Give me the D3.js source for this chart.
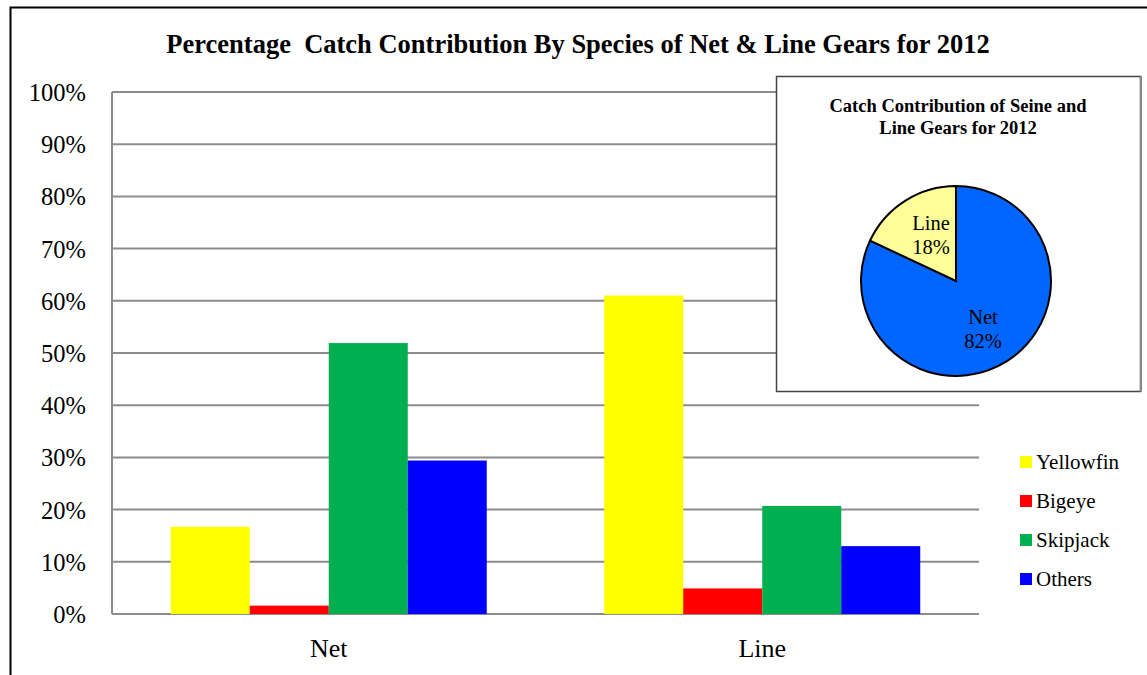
<!DOCTYPE html>
<html>
<head>
<meta charset="utf-8">
<script src="https://cdn.jsdelivr.net/npm/d3@7"></script>
<style>
  body { margin: 0; background: #fff; }
</style>
</head>
<body>
<svg id="chart" width="1147" height="675" font-family="'Liberation Serif', 'DejaVu Serif', serif"></svg>
<script>
// data
const gears = ["Net", "Line"];
const species = ["Yellowfin", "Bigeye", "Skipjack", "Others"];
const speciesColors = ["#FFFF00", "#FF0000", "#00B050", "#0000FF"];
const netValues = [16.7, 1.6, 51.9, 29.4];
const lineValues = [61.0, 4.9, 20.7, 13.0];
const yTicks = [0, 10, 20, 30, 40, 50, 60, 70, 80, 90, 100];

const pieLabels = ["Net", "Line"];
const pieValues = [82, 18];
const pieColors = ["#0066FF", "#FFFF99"];

const svg = d3.select("#chart");
const plot = { left: 112, right: 979, top: 92, bottom: 614 };

// outer frame
svg.append("path")
    .attr("d", "M10.5,680 L10.5,7.5 L1150,7.5")
    .attr("fill", "none").attr("stroke", "#000").attr("stroke-width", 2);

svg.append("text")
    .attr("x", 578).attr("y", 53)
    .attr("text-anchor", "middle")
    .attr("font-size", 26.5).attr("font-weight", "bold")
    .attr("xml:space", "preserve")
    .text("Percentage  Catch Contribution By Species of Net & Line Gears for 2012");

const y = d3.scaleLinear().domain([0, 100]).range([plot.bottom, plot.top]);
const x0 = d3.scaleBand().domain(gears).range([plot.left, plot.right]);
const x1 = d3.scaleBand().domain(species).range([0, 316]);

// gridlines
svg.append("g").selectAll("line").data(yTicks).join("line")
    .attr("x1", plot.left).attr("x2", plot.right)
    .attr("y1", d => y(d)).attr("y2", d => y(d))
    .attr("stroke", "#8c8c8c").attr("stroke-width", 2);
svg.append("line")
    .attr("x1", plot.left).attr("x2", plot.left)
    .attr("y1", plot.top).attr("y2", plot.bottom)
    .attr("stroke", "#8c8c8c").attr("stroke-width", 2);

svg.append("g").selectAll("text").data(yTicks).join("text")
    .attr("x", 86).attr("y", d => y(d) + 9)
    .attr("text-anchor", "end").attr("font-size", 24.5)
    .text(d => d + "%");

// bars
const rows = [netValues, lineValues];
gears.forEach((g, gi) => {
    const gx = x0(g) + x0.bandwidth() / 2 - 158;
    svg.append("g").selectAll("rect").data(rows[gi]).join("rect")
        .attr("x", (d, i) => gx + x1(species[i]))
        .attr("y", d => y(d))
        .attr("width", x1.bandwidth())
        .attr("height", d => plot.bottom - y(d))
        .attr("fill", (d, i) => speciesColors[i]);
});

svg.append("g").selectAll("text").data(gears).join("text")
    .attr("x", d => x0(d) + x0.bandwidth() / 2)
    .attr("y", 657)
    .attr("text-anchor", "middle").attr("font-size", 26)
    .text(d => d);

// legend
const lg = svg.append("g").selectAll("g").data(species).join("g")
    .attr("transform", (d, i) => `translate(1020,${462 + i * 39})`);
lg.append("rect").attr("x", 0).attr("y", -6).attr("width", 12).attr("height", 12)
    .attr("fill", (d, i) => speciesColors[i]);
lg.append("text").attr("x", 16).attr("y", 7).attr("font-size", 21).text(d => d);

// inset pie
const inset = svg.append("g");
inset.append("rect")
    .attr("x", 776.5).attr("y", 76.5).attr("width", 364).attr("height", 315)
    .attr("fill", "#fff").attr("stroke", "#444").attr("stroke-width", 1.5);
inset.append("line")
    .attr("x1", 1141).attr("x2", 1141).attr("y1", 76).attr("y2", 392)
    .attr("stroke", "#888").attr("stroke-width", 2);

inset.append("text").attr("x", 958).attr("y", 112)
    .attr("text-anchor", "middle").attr("font-size", 18.5).attr("font-weight", "bold")
    .text("Catch Contribution of Seine and");
inset.append("text").attr("x", 958).attr("y", 134)
    .attr("text-anchor", "middle").attr("font-size", 18.5).attr("font-weight", "bold")
    .text("Line Gears for 2012");

const cx = 956, cy = 281, r = 95;
const pie = d3.pie().sort(null)(pieValues);
const arc = d3.arc().innerRadius(0).outerRadius(r);
const pg = inset.append("g").attr("transform", `translate(${cx},${cy})`);
pg.selectAll("path").data(pie).join("path")
    .attr("d", arc)
    .attr("fill", (d, i) => pieColors[i])
    .attr("stroke", "#000").attr("stroke-width", 2);

const pieLabelPos = [[27, 43], [-25, -51]];
pg.selectAll("text.lbl").data(pie).join("text")
    .attr("class", "lbl")
    .attr("text-anchor", "middle").attr("font-size", 20.5)
    .attr("transform", (d, i) => `translate(${pieLabelPos[i][0]},${pieLabelPos[i][1]})`)
    .each(function (d, i) {
        const t = d3.select(this);
        t.append("tspan").attr("x", 0).attr("dy", 0).text(pieLabels[i]);
        t.append("tspan").attr("x", 0).attr("dy", 24).text(pieValues[i] + "%");
    });
</script>
</body>
</html>
